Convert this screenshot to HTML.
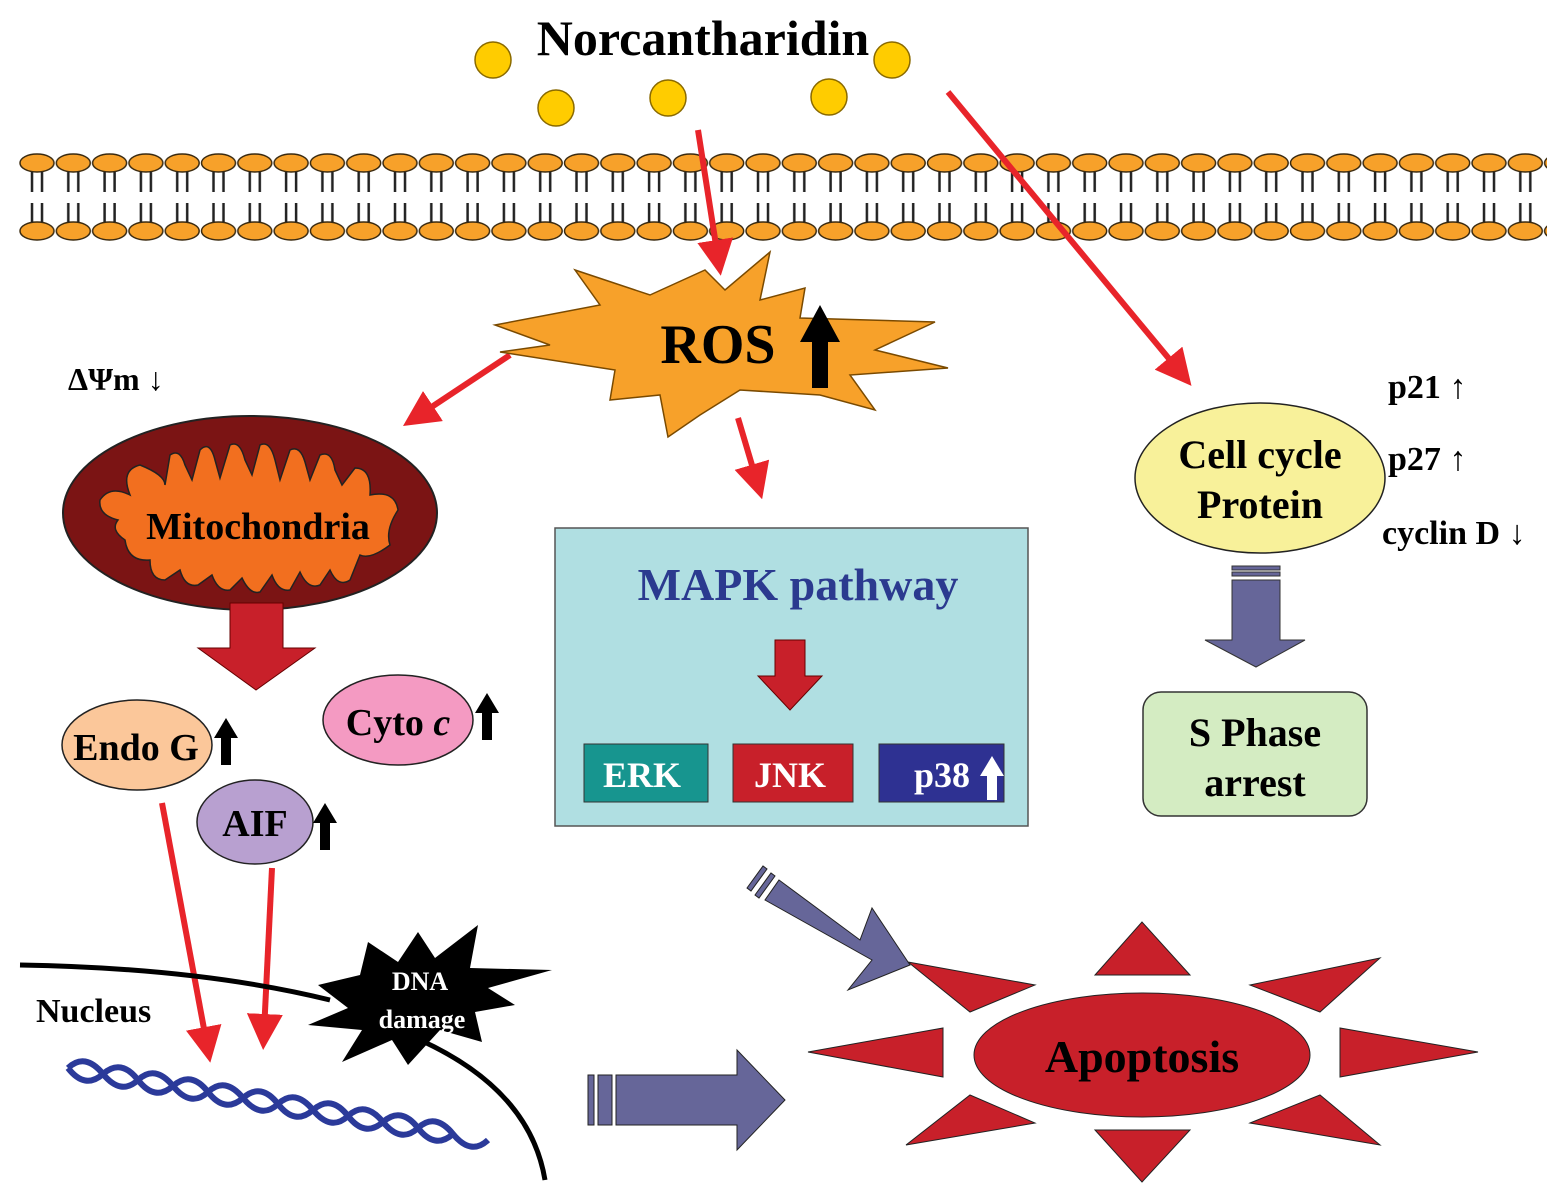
<!DOCTYPE html>
<html><head><meta charset="utf-8"><style>
html,body{margin:0;padding:0;background:#fff;}
svg{display:block;}
text{font-family:"Liberation Serif",serif;font-weight:bold;}
</style></head><body>
<svg width="1565" height="1200" viewBox="0 0 1565 1200" xmlns="http://www.w3.org/2000/svg">
<defs>
<pattern id="mt" patternUnits="userSpaceOnUse" x="19" y="150" width="36.3" height="45">
<ellipse cx="18" cy="13" rx="17" ry="9" fill="#f7a12a" stroke="#3a2a10" stroke-width="1.5"/>
<line x1="13" y1="22" x2="13" y2="42" stroke="#222" stroke-width="2.5"/>
<line x1="23" y1="22" x2="23" y2="42" stroke="#222" stroke-width="2.5"/>
</pattern>
<pattern id="mb" patternUnits="userSpaceOnUse" x="19" y="200" width="36.3" height="45">
<ellipse cx="18" cy="31" rx="17" ry="9" fill="#f7a12a" stroke="#3a2a10" stroke-width="1.5"/>
<line x1="13" y1="3" x2="13" y2="22" stroke="#222" stroke-width="2.5"/>
<line x1="23" y1="3" x2="23" y2="22" stroke="#222" stroke-width="2.5"/>
</pattern>
<marker id="ra" markerWidth="6" markerHeight="6" refX="3" refY="3" orient="auto" markerUnits="strokeWidth"><path d="M0,0 L6,3 L0,6 z" fill="#e8242a"/></marker>
</defs>

<rect x="19" y="150" width="1528" height="45" fill="url(#mt)"/>
<rect x="19" y="200" width="1528" height="45" fill="url(#mb)"/>

<text x="703" y="55" font-size="50" text-anchor="middle">Norcantharidin</text>
<g fill="#ffcc00" stroke="#8a6a00" stroke-width="1.5">
<circle cx="493" cy="60" r="18"/><circle cx="892" cy="60" r="18"/>
<circle cx="556" cy="108" r="18"/><circle cx="668" cy="98" r="18"/><circle cx="829" cy="97" r="18"/>
</g>

<g stroke="#e8242a" stroke-width="6" fill="none" marker-end="url(#ra)">
<line x1="698" y1="130" x2="718" y2="258"/>
<line x1="948" y1="92" x2="1180" y2="372"/>
<line x1="510" y1="355" x2="418" y2="416"/>
<line x1="738" y1="418" x2="757" y2="482"/>
<line x1="162" y1="803" x2="207" y2="1045"/>
<line x1="272" y1="868" x2="264" y2="1032"/>
</g>

<polygon points="495,325 600,305 575,270 650,295 705,270 725,290 770,252 760,300 805,288 800,318 935,322 875,350 948,368 850,375 875,410 820,395 740,390 700,415 668,437 660,395 610,400 615,370 500,352 550,345" fill="#f7a12a" stroke="#7a4a00" stroke-width="1.5"/>
<text x="718" y="363" font-size="56" text-anchor="middle">ROS</text>
<polygon points="812,388 812,342 800,342 820,305 840,342 828,342 828,388" fill="#000"/>

<text x="68" y="390" font-size="32">ΔΨm ↓</text>

<ellipse cx="250" cy="513" rx="187" ry="97" fill="#7b1414" stroke="#222" stroke-width="2"/>
<path d="M100,500 Q110,485 130,495 Q120,470 140,465 Q165,475 165,485 L170,455 Q180,448 185,465 L192,480 L200,450 Q210,440 215,460 L220,478 L230,445 Q240,440 245,460 L252,475 L260,445 Q270,440 275,460 L280,480 L290,450 Q300,445 305,462 L310,480 L320,455 Q332,450 335,470 L342,485 L355,468 Q372,468 370,495 Q395,490 398,510 Q385,530 390,545 Q370,560 360,555 L350,580 Q338,588 330,570 L320,585 Q308,590 300,572 L290,590 Q278,592 272,575 L260,592 Q250,595 242,578 L230,590 Q218,592 212,575 L198,585 Q185,588 180,570 L165,580 Q150,580 150,560 Q128,562 125,540 Q110,530 118,520 Q98,515 100,500 Z" fill="#f26f1f" stroke="#222" stroke-width="1.5"/>
<text x="258" y="539" font-size="38" text-anchor="middle">Mitochondria</text>

<polygon points="230,603 283,603 283,648 315,648 256,690 198,648 230,648" fill="#c8202a" stroke="#600" stroke-width="1"/>

<ellipse cx="137" cy="745" rx="75" ry="45" fill="#fbc79a" stroke="#222" stroke-width="1.5"/>
<text x="136" y="760" font-size="38" text-anchor="middle">Endo G</text>
<polygon points="221,765 221,738 214,738 226,718 238,738 231,738 231,765" fill="#000"/>
<ellipse cx="398" cy="720" rx="75" ry="45" fill="#f49ac2" stroke="#222" stroke-width="1.5"/>
<text x="398" y="735" font-size="38" text-anchor="middle">Cyto <tspan font-style="italic">c</tspan></text>
<polygon points="482,740 482,713 475,713 487,693 499,713 492,713 492,740" fill="#000"/>
<ellipse cx="255" cy="822" rx="58" ry="42" fill="#b8a0d0" stroke="#222" stroke-width="1.5"/>
<text x="255" y="836" font-size="38" text-anchor="middle">AIF</text>
<polygon points="320,850 320,823 313,823 325,803 337,823 330,823 330,850" fill="#000"/>

<rect x="555" y="528" width="473" height="298" fill="#b0dfe2" stroke="#555" stroke-width="1.5"/>
<text x="798" y="600" font-size="46" fill="#2b3a8f" text-anchor="middle">MAPK pathway</text>
<polygon points="775,640 805,640 805,676 822,676 790,710 758,676 775,676" fill="#c8202a" stroke="#600" stroke-width="1"/>
<rect x="584" y="744" width="124" height="58" fill="#17958f" stroke="#333"/>
<text x="642" y="787" font-size="36" fill="#fff" text-anchor="middle">ERK</text>
<rect x="733" y="744" width="120" height="58" fill="#c8202a" stroke="#333"/>
<text x="790" y="787" font-size="36" fill="#fff" text-anchor="middle">JNK</text>
<rect x="879" y="744" width="125" height="58" fill="#2e3192" stroke="#333"/>
<text x="942" y="787" font-size="36" fill="#fff" text-anchor="middle">p38</text>
<polygon points="987,800 987,776 980,776 992,756 1004,776 997,776 997,800" fill="#fff"/>

<ellipse cx="1260" cy="478" rx="125" ry="75" fill="#f8f19a" stroke="#222" stroke-width="1.5"/>
<text x="1260" y="468" font-size="40" text-anchor="middle">Cell cycle</text>
<text x="1260" y="518" font-size="40" text-anchor="middle">Protein</text>
<text x="1388" y="398" font-size="34">p21 ↑</text>
<text x="1388" y="470" font-size="34">p27 ↑</text>
<text x="1382" y="544" font-size="34">cyclin D ↓</text>

<g fill="#666699" stroke="#333" stroke-width="1">
<rect x="1232" y="566" width="48" height="4"/>
<rect x="1232" y="572" width="48" height="4"/>
<polygon points="1232,580 1280,580 1280,640 1305,640 1256,667 1205,640 1232,640"/>
</g>
<rect x="1143" y="692" width="224" height="124" rx="18" fill="#d4ecc2" stroke="#333" stroke-width="1.5"/>
<text x="1255" y="746" font-size="40" text-anchor="middle">S Phase</text>
<text x="1255" y="796" font-size="40" text-anchor="middle">arrest</text>

<path d="M20,965 Q200,968 330,1000" stroke="#000" stroke-width="5" fill="none"/>
<path d="M420,1040 Q530,1090 545,1180" stroke="#000" stroke-width="5" fill="none"/>
<text x="36" y="1022" font-size="34">Nucleus</text>
<path d="M68,1068 q17,-16 35,6 t35,6 t35,6 t35,6 t35,6 t35,6 t35,6 t35,6 t35,6 t35,6 t35,6 t35,6" stroke="#2b3a9a" stroke-width="6" fill="none"/>
<path d="M68,1068 q17,22 35,6 t35,6 t35,6 t35,6 t35,6 t35,6 t35,6 t35,6 t35,6 t35,6 t35,6" stroke="#2b3a9a" stroke-width="6" fill="none"/>
<polygon points="318,985 360,975 368,942 398,962 418,932 435,958 478,925 470,968 552,970 488,988 515,1005 475,1012 482,1042 440,1030 408,1065 392,1040 342,1062 362,1030 308,1025 348,1008" fill="#000"/>
<text x="420" y="990" font-size="26" fill="#fff" text-anchor="middle">DNA</text>
<text x="422" y="1028" font-size="26" fill="#fff" text-anchor="middle">damage</text>

<g fill="#666699" stroke="#222" stroke-width="1">
<polygon points="588,1075 594,1075 594,1125 588,1125"/>
<polygon points="598,1075 612,1075 612,1125 598,1125"/>
<polygon points="616,1075 737,1075 737,1050 785,1100 737,1150 737,1125 616,1125"/>
<polygon points="747,888 763,866 767,869 751,891"/>
<polygon points="755,895 771,873 775,876 759,898"/>
<polygon points="779,880 860,940 872,908 910,965 848,990 872,960 765,900"/>
</g>

<g fill="#c8202a" stroke="#222" stroke-width="1">
<polygon points="1095,975 1190,975 1142,922"/>
<polygon points="908,962 1035,985 970,1012"/>
<polygon points="1250,985 1380,958 1320,1012"/>
<polygon points="808,1052 943,1028 943,1077"/>
<polygon points="1340,1028 1340,1077 1478,1052"/>
<polygon points="970,1095 1035,1123 906,1145"/>
<polygon points="1250,1123 1320,1095 1380,1145"/>
<polygon points="1095,1130 1190,1130 1142,1182"/>
<ellipse cx="1142" cy="1055" rx="168" ry="62"/>
</g>
<text x="1142" y="1072" font-size="46" text-anchor="middle">Apoptosis</text>
</svg>
</body></html>
